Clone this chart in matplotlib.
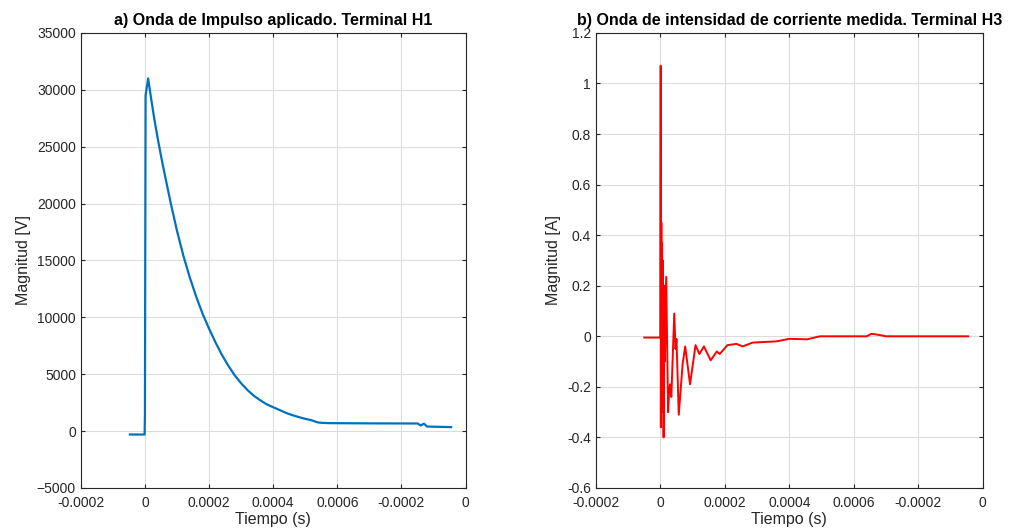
import numpy as np
import matplotlib
matplotlib.use('Agg')
import matplotlib.pyplot as plt

plt.rcParams['font.family'] = ['Liberation Sans', 'DejaVu Sans']

# a) applied impulse, terminal H1 (time s, volts)
t_v = [-4.7e-5, -1e-6, 0.0, 2e-6, 1.0e-5, 2.0e-5, 3.0e-5, 4.0e-5, 5.0e-5,
       6.0e-5, 8.0e-5, 1.0e-4, 1.2e-4, 1.4e-4, 1.6e-4, 1.8e-4, 2.0e-4,
       2.2e-4, 2.4e-4, 2.6e-4, 2.8e-4, 3.0e-4, 3.2e-4, 3.4e-4, 3.6e-4,
       3.8e-4, 4.0e-4, 4.2e-4, 4.4e-4, 4.6e-4, 4.8e-4, 5.0e-4, 5.2e-4,
       5.3e-4, 5.4e-4, 5.5e-4, 5.75e-4, 7.0e-4, 8.5e-4, 8.6e-4, 8.7e-4,
       8.8e-4, 9.55e-4]
v_h1 = [-300, -300, 1500, 29500, 31000, 29100, 27300, 25700, 24200,
        22800, 20100, 17600, 15400, 13500, 11800, 10300, 9000,
        7800, 6700, 5750, 4900, 4200, 3600, 3100, 2700,
        2350, 2100, 1850, 1600, 1400, 1230, 1080, 950,
        850, 760, 730, 700, 680, 670, 500, 650,
        400, 350]

# b) measured current, terminal H3 (time s, amps)
t_i = [-5.0e-5, -1e-6, 0.0, 1e-6, 1.5e-6, 3e-6, 4e-6, 5e-6, 6.5e-6, 8e-6,
       1.0e-5, 1.2e-5, 1.4e-5, 1.8e-5, 2.4e-5, 2.7e-5, 3.0e-5, 3.4e-5,
       4.3e-5, 4.7e-5, 5.0e-5, 5.7e-5, 6.9e-5, 7.7e-5, 9.2e-5, 1.09e-4,
       1.21e-4, 1.35e-4, 1.56e-4, 1.75e-4, 1.84e-4, 2.08e-4, 2.36e-4,
       2.55e-4, 2.86e-4, 3.6e-4, 4.0e-4, 4.55e-4, 4.95e-4, 6.4e-4, 6.55e-4,
       6.8e-4, 7.0e-4, 9.55e-4]
i_h3 = [-0.005, -0.005, 0.0, 1.07, -0.36, 0.45, -0.2, 0.37, -0.3, 0.3,
        -0.40, 0.2, -0.1, 0.235, -0.30, -0.22, -0.19, -0.24,
        0.09, -0.05, -0.01, -0.31, -0.11, -0.04, -0.19, -0.035,
        -0.07, -0.04, -0.095, -0.06, -0.07, -0.035, -0.03,
        -0.04, -0.025, -0.02, -0.01, -0.012, 0.0, 0.0, 0.01,
        0.005, 0.0, 0.0]

x_ticks = [-0.0002, 0, 0.0002, 0.0004, 0.0006, 0.0008, 0.001]
x_labels = ['-0.0002', '0', '0.0002', '0.0004', '0.0006', '-0.0002', '0']
yv_ticks = list(range(-5000, 35001, 5000))
yi_ticks = [-0.6, -0.4, -0.2, 0, 0.2, 0.4, 0.6, 0.8, 1.0, 1.2]
yi_labels = ['-0.6', '-0.4', '-0.2', '0', '0.2', '0.4', '0.6', '0.8', '1', '1.2']

TXT = '#262626'


def style(ax):
    ax.grid(True, color='#dcdcdc', lw=0.8)
    ax.set_axisbelow(True)
    ax.tick_params(direction='in', top=True, right=True, length=3,
                   labelsize=10, colors=TXT, labelcolor=TXT)
    ax.tick_params(axis='x', pad=6)
    for s in ax.spines.values():
        s.set_color(TXT)
        s.set_linewidth(0.8)
    ax.set_xlim(-0.0002, 0.001)
    ax.set_xticks(x_ticks)
    ax.set_xticklabels(x_labels)
    ax.set_xlabel('Tiempo (s)', fontsize=11.5, color=TXT, labelpad=1)


fig = plt.figure(figsize=(10.1, 5.31), dpi=100)
ax1 = fig.add_axes([0.080, 0.081, 0.381, 0.857])
ax2 = fig.add_axes([0.590, 0.081, 0.383, 0.857])

ax1.plot(t_v, v_h1, color='#0072BD', lw=1.6)
style(ax1)
ax1.set_ylim(-5000, 35000)
ax1.set_yticks(yv_ticks)
ax1.set_ylabel('Magnitud [V]', fontsize=11.5, color=TXT)
ax1.set_title('a) Onda de Impulso aplicado. Terminal H1', fontsize=11.5,
              fontweight='bold', pad=6)

ax2.plot(t_i, i_h3, color='#FF0000', lw=1.4)
style(ax2)
ax2.set_ylim(-0.6, 1.2)
ax2.set_yticks(yi_ticks)
ax2.set_yticklabels(yi_labels)
ax2.set_ylabel('Magnitud [A]', fontsize=11.5, color=TXT)
ax2.set_title('b) Onda de intensidad de corriente medida. Terminal H3',
              fontsize=11.5, fontweight='bold', pad=6)

fig.savefig('out.png', dpi=100)
